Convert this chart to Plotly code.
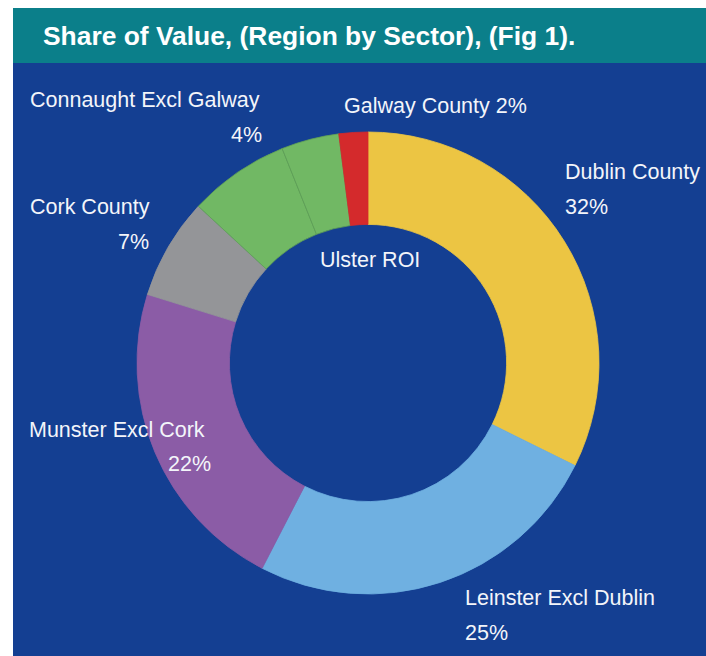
import plotly.graph_objects as go

# Share of value by region (per cent), clockwise from 12 o'clock
regions = ["Dublin County", "Leinster Excl Dublin", "Munster Excl Cork",
           "Cork County", "Ulster ROI", "Connaught Excl Galway", "Galway County"]
shares = [32, 25, 22, 7, 7, 4, 2]
colors = ["#ecc543", "#6fb0e1", "#8b5ca6", "#949598", "#71b864", "#71b864", "#d42a2c"]
edge_colors = ["#ecc543", "#6fb0e1", "#8b5ca6", "#949598", "#5f9f55", "#5f9f55", "#d42a2c"]

W, H = 706, 656
TEAL = "#0b7f8a"
NAVY = "#143f92"
TXT = "#f3f5fa"
FONT = "Liberation Sans, Arial, Helvetica, sans-serif"
LABEL_SIZE = 21.5
PAD = 3  # annotation box padding, in px


def px(x):
    return x / W


def py(y):
    return 1 - y / H


def ax(x, anchor):
    # compensate for the annotation box padding so the glyphs sit at x
    if anchor == "left":
        return px(x - PAD)
    if anchor == "right":
        return px(x + PAD)
    return px(x)


fig = go.Figure()

# donut centred at (368, 363) px with an outer radius of about 231 px
cx, cy, r = 368, 363, 231
fig.add_trace(go.Pie(
    labels=regions,
    values=shares,
    sort=False,
    direction="clockwise",
    rotation=0,
    hole=0.60,
    marker=dict(colors=colors, line=dict(color=edge_colors, width=0.8)),
    textinfo="none",
    hovertemplate="%{label}: %{value}%<extra></extra>",
    showlegend=False,
    domain=dict(x=[px(cx - r), px(cx + r)], y=[py(cy + r), py(cy - r)]),
))

shapes = [
    dict(type="rect", xref="paper", yref="paper", layer="below",
         x0=px(13), x1=1, y0=py(63), y1=py(8), fillcolor=TEAL, line_width=0),
    dict(type="rect", xref="paper", yref="paper", layer="below",
         x0=px(13), x1=1, y0=0, y1=py(63), fillcolor=NAVY, line_width=0),
]

annotations = [
    dict(text="<b>Share of Value, (Region by Sector), (Fig 1).</b>",
         x=ax(44, "left"), y=py(36), xanchor="left", yanchor="middle",
         font=dict(size=26.4, color="#ffffff", family=FONT)),
]

# label layout: (name x, name y, name anchor, pct x, pct y, pct anchor)
label_layout = {
    "Dublin County": (566, 172, "left", 566, 207, "left"),
    "Leinster Excl Dublin": (466, 598, "left", 466, 633, "left"),
    "Munster Excl Cork": (30, 430, "left", 210, 464, "right"),
    "Cork County": (31, 207, "left", 148, 242, "right"),
    "Connaught Excl Galway": (31, 100, "left", 261, 135, "right"),
}

label_font = dict(size=LABEL_SIZE, color=TXT, family=FONT)
for name, val in zip(regions, shares):
    if name in label_layout:
        nx, ny, na, qx, qy, qa = label_layout[name]
        annotations.append(dict(text=name, x=ax(nx, na), y=py(ny), xanchor=na,
                                yanchor="middle", font=label_font))
        annotations.append(dict(text=f"{val}%", x=ax(qx, qa), y=py(qy), xanchor=qa,
                                yanchor="middle", font=label_font))
    elif name == "Galway County":
        annotations.append(dict(text=f"{name} {val}%", x=ax(345, "left"), y=py(106),
                                xanchor="left", yanchor="middle", font=label_font))
    elif name == "Ulster ROI":
        annotations.append(dict(text=name, x=ax(370, "center"), y=py(260),
                                xanchor="center", yanchor="middle", font=label_font))

for a in annotations:
    a.update(xref="paper", yref="paper", showarrow=False)

fig.update_layout(
    width=W, height=H,
    margin=dict(l=0, r=0, t=0, b=0),
    paper_bgcolor="#ffffff",
    plot_bgcolor="#ffffff",
    shapes=shapes,
    annotations=annotations,
)

fig.write_html("out.html")
